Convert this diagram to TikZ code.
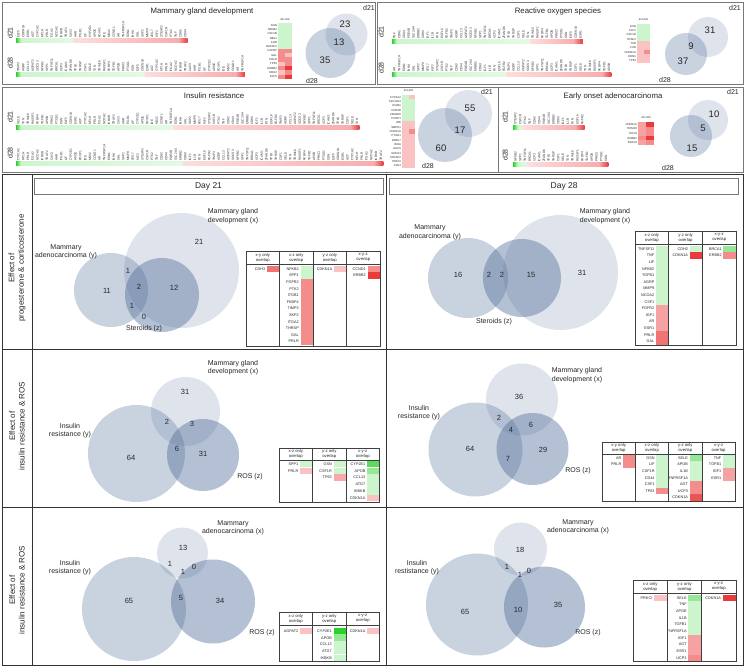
\documentclass[tikz,border=0pt]{standalone}
\usepackage{fontspec}
\setmainfont{Liberation Sans}
\usetikzlibrary{positioning}

\definecolor{vennblue}{RGB}{78,106,152}
\definecolor{lgreen}{RGB}{205,245,205}
\definecolor{mgreen}{RGB}{150,232,150}
\definecolor{sgreen}{RGB}{40,210,40}
\definecolor{lred}{RGB}{250,195,195}
\definecolor{mred}{RGB}{245,140,140}
\definecolor{sred}{RGB}{232,60,60}
\definecolor{framegray}{RGB}{120,120,120}

\tikzset{
  panel/.style={draw=framegray, line width=0.8pt},
  gridline/.style={draw=black!80, line width=0.8pt},
  ptitle/.style={font=\fontsize{7.8}{9}\selectfont, inner sep=0pt},
  daylbl/.style={rotate=90, font=\fontsize{7}{8}\selectfont, inner sep=0pt},
  gene/.style={rotate=90, anchor=west, font=\fontsize{3.2}{3.4}\selectfont, inner sep=0pt, text=black!80},
  hname/.style={anchor=east, font=\fontsize{2.8}{3}\selectfont, inner sep=0.4pt},
  hhead/.style={font=\fontsize{2.6}{3}\selectfont, inner sep=0pt},
  setA/.style={fill=vennblue, fill opacity=0.18},
  setB/.style={fill=vennblue, fill opacity=0.3},
  setC/.style={fill=vennblue, fill opacity=0.42},
  topnum/.style={font=\fontsize{9.5}{10}\selectfont, inner sep=0pt},
  toplbl/.style={font=\fontsize{7}{8}\selectfont, inner sep=0pt},
  vnum/.style={font=\fontsize{7.5}{8}\selectfont, inner sep=0pt},
  vlab/.style={font=\fontsize{7}{8.4}\selectfont, align=center, inner sep=0pt},
  rowlbl/.style={rotate=90, font=\fontsize{8}{9.6}\selectfont, align=center, inner sep=0pt},
  dayhead/.style={draw=framegray, line width=0.7pt, font=\fontsize{8.5}{10}\selectfont,
    minimum width=349pt, minimum height=16pt, inner sep=0pt},
  tframe/.style={draw=black!75, line width=0.5pt},
  thead/.style={font=\fontsize{4.2}{5}\selectfont, align=center, inner sep=0pt},
  tgene/.style={anchor=east, font=\fontsize{3.8}{4}\selectfont, inner sep=0.5pt}
}

% names along the bars (cycled)
\def\genepool{{"GSN","NFKB2","CSF1R","AHR","RASSF1","FGFR2","GAL","PRLR","TP63","ERBB2",
"MSX2","ELF5","SPP1","PTK2","ITGB1","FKBP4","TIMP3","SKP2","ITGA2","THRSP",
"CDH3","CCND1","CDKN1A","TNFSF11","TNF","LIF","TGFB1","AGRP","MMP9","NCOA2",
"CSF1","IGF1","AR","ESR1","BRCA1","CDH2","CYP2E1","APOB","CCL13","ATG7",
"IKBKB","SELE","IL1B","TNFRSF1A","AGT","UCP3","CD44","APOE","PRKCI","AGPAT2",
"KLF2","TRAF2","TXN","FXN","EDN1","CYP1A2","ICAM1","PDE4B","FOXP1","PTGS1",
"SOCS3","STEAP2","CAV3","TRIM16","EGFL6","INHA","MT1H","ZFAND6","SLC2A4","IDE"}}

% x0, y top, n green, n red, name, offset
\newcommand{\genebar}[6]{%
  \pgfmathsetmacro\xga{#1+4.77}%
  \pgfmathsetmacro\xg{#1+#3*4.77}%
  \pgfmathsetmacro\xr{#1+(#3+#4)*4.77}%
  \pgfmathsetmacro\xrb{\xr-2*4.77}%
  \shade[left color=sgreen, right color=lgreen] (#1,#2) rectangle (\xga,#2+4);
  \shade[left color=lgreen, right color=lgreen!55!white] (\xga,#2) rectangle (\xg,#2+4);
  \shade[left color=lred!55!white, right color=lred!60!mred] (\xg,#2) rectangle (\xrb,#2+4);
  \shade[left color=lred!60!mred, right color=sred] (\xrb,#2) rectangle (\xr,#2+4);
  \pgfmathtruncatemacro\nall{#3+#4}%
  \foreach \i in {1,...,\nall}{%
    \pgfmathtruncatemacro\gi{mod(\i*11+#6,70)}%
    \pgfmathparse{\genepool[\gi]}\edef\gn{\pgfmathresult}%
    \node[gene] (#5-\i) at ({#1+(\i-0.5)*4.77},#2-0.8) {\gn};
  }%
}
% name, column x, row y, gene, colour
\def\cw{33.5}
\newcommand{\gcell}[5]{%
  \fill[#5] (#2+21,#3-3.3) rectangle (#2+\cw,#3+3.3);
  \node[tgene] (#1) at (#2+20,#3) {#4};
}

\begin{document}
\begin{tikzpicture}[x=1pt,y=-1pt,every node/.style={text=black!85}]
\useasboundingbox (0,0) rectangle (745,671);
\fill[white] (0,0) rectangle (745,671);

%% ---------- top: four gene set panels ----------
\draw[panel] (2,2) rectangle (375,84);
\draw[panel] (377,2) rectangle (743,84);
\draw[panel] (2,87) rectangle (498,172);
\draw[panel] (498,87) rectangle (743,172);

% mammary gland development
\node[ptitle] (mgtitle) at (202,11) {Mammary gland development};
\node[daylbl] (mg-d21) at (10,33) {d21};
\node[daylbl] (mg-d28) at (10,63) {d28};
\genebar{16}{39}{12}{24}{mg21}{0}
\genebar{16}{73}{27}{21}{mg28}{5}
\node[hhead] (mgh-top) at (285,20) {d21\,d28};
\foreach \g/\ca/\cb [count=\k] in {GSN/lgreen/lgreen, NFKB2/lgreen/lgreen, CSF1R/lgreen/lgreen,
  NBL1/lgreen/lgreen, AHR/lgreen/lgreen, RASSF1/lgreen/lgreen, FGFR2/mred/mred, GAL/mred/lred,
  PRLR/mred/mred, TP63/lred/mred, ERBB2/mred/sred, MSX2/lred/mred, ELF5/mred/sred}{
  \fill[\ca] (278,{23+(\k-1)*4.3}) rectangle (285,{23+\k*4.3});
  \fill[\cb] (285,{23+(\k-1)*4.3}) rectangle (292,{23+\k*4.3});
  \node[hname] (mgh-\k) at (277.5,{23+(\k-0.5)*4.3}) {\g};
}
\fill[setA] (346.5,34.5) circle[radius=21pt];
\fill[setB] (330.5,53) circle[radius=25pt];
\node[toplbl] (mgv-d21) at (369,8) {d21};
\node[toplbl] (mgv-d28) at (312,81) {d28};
\node[topnum] (mgv-a) at (345,24) {23};
\node[topnum] (mgv-b) at (339,42) {13};
\node[topnum] (mgv-c) at (325,60) {35};

% reactive oxygen species
\node[ptitle] (rostitle) at (558,11) {Reactive oxygen species};
\node[daylbl] (ros-d21) at (381,32) {d21};
\node[daylbl] (ros-d28) at (381,68) {d28};
\genebar{392}{40}{29}{11}{ros21}{13}
\genebar{392}{73}{24}{22}{ros28}{21}
\node[hhead] (rosh-top) at (643.5,20) {d21\,d28};
\foreach \g/\ca/\cb [count=\k] in {GSN/lgreen/lgreen, KLF2/lgreen/lgreen, CSF1R/lgreen/lgreen,
  TRAF2/lgreen/lgreen, TXN/lred/lred, FXN/lred/lred, CDKN1A/lred/mred, EDN1/lred/lred, TP63/lred/lred}{
  \fill[\ca] (637,{24+(\k-1)*4.33}) rectangle (643.5,{24+\k*4.33});
  \fill[\cb] (643.5,{24+(\k-1)*4.33}) rectangle (650,{24+\k*4.33});
  \node[hname] (rosh-\k) at (636.5,{24+(\k-0.5)*4.33}) {\g};
}
\fill[setA] (708,37) circle[radius=20pt];
\fill[setB] (686,54) circle[radius=21pt];
\node[toplbl] (rosv-d21) at (735,8) {d21};
\node[toplbl] (rosv-d28) at (665,80) {d28};
\node[topnum] (rosv-a) at (710,30) {31};
\node[topnum] (rosv-b) at (691,46) {9};
\node[topnum] (rosv-c) at (683,61) {37};

% insulin resistance
\node[ptitle] (irtitle) at (214,96) {Insulin resistance};
\node[daylbl] (ir-d21) at (10,117) {d21};
\node[daylbl] (ir-d28) at (10,153) {d28};
\genebar{16}{126}{33}{39}{ir21}{30}
\genebar{16}{162}{35}{42}{ir28}{44}
\node[hhead] (irh-top) at (408.5,91) {d21\,d28};
\foreach \g/\ca/\cb [count=\k] in {CYP1A2/lgreen/lred, SLC10A3/lgreen/lgreen, ICAM1/lgreen/lgreen,
  PDE4B/lgreen/lgreen, ZFAND6/lgreen/lgreen, FOXP1/lgreen/lgreen, IDE/lred/lred, SMPD1/lred/lred,
  CDKN1A/lred/mred, PTGS1/lred/lred, PARK7/lred/lred, INHA/lred/lred, AACS/lred/lred,
  SOCS3/lred/lred, STEAP2/lred/lred, PRKCI/lred/lred, CAV3/lred/lred}{
  \fill[\ca] (402,{95+(\k-1)*4.3}) rectangle (408.5,{95+\k*4.3});
  \fill[\cb] (408.5,{95+(\k-1)*4.3}) rectangle (415,{95+\k*4.3});
  \node[hname] (irh-\k) at (401.5,{95+(\k-0.5)*4.3}) {\g};
}
\fill[setA] (468.5,113.5) circle[radius=23.5pt];
\fill[setB] (445,135) circle[radius=27pt];
\node[toplbl] (irv-d21) at (487,92) {d21};
\node[toplbl] (irv-d28) at (428,166) {d28};
\node[topnum] (irv-a) at (470,108) {55};
\node[topnum] (irv-b) at (460,130) {17};
\node[topnum] (irv-c) at (441,148) {60};

% early onset adenocarcinoma
\node[ptitle] (eotitle) at (613,96) {Early onset adenocarcinoma};
\node[daylbl] (eo-d21) at (505,117) {d21};
\node[daylbl] (eo-d28) at (505,155) {d28};
\genebar{513}{126}{2}{13}{eo21}{50}
\genebar{513}{163}{3}{17}{eo28}{60}
\node[hhead] (eoh-top) at (646,118) {d21\,d28};
\foreach \g/\ca/\cb [count=\k] in {CDKN1A/mred!60!lred/sred, TRIM16/mred!60!lred/mred,
  MT1H/mred!60!lred/mred, ERBB2/mred/sred, EGFL6/mred!60!lred/mred}{
  \fill[\ca] (638,{122+(\k-1)*4.6}) rectangle (646,{122+\k*4.6});
  \fill[\cb] (646,{122+(\k-1)*4.6}) rectangle (654,{122+\k*4.6});
  \node[hname] (eoh-\k) at (637.5,{122+(\k-0.5)*4.6}) {\g};
}
\fill[setA] (708,120) circle[radius=20pt];
\fill[setB] (691,136) circle[radius=21pt];
\node[toplbl] (eov-d21) at (733,92) {d21};
\node[toplbl] (eov-d28) at (668,168) {d28};
\node[topnum] (eov-a) at (714,114) {10};
\node[topnum] (eov-b) at (703,128) {5};
\node[topnum] (eov-c) at (692,148) {15};

%% ---------- bottom: grid of three-set comparisons ----------
\draw[gridline] (2,174) rectangle (743,665);
\draw[gridline] (32,174) -- (32,665);
\draw[gridline] (386,174) -- (386,665);
\draw[gridline] (2,349) -- (743,349);
\draw[gridline] (2,507) -- (743,507);

\node[dayhead] (day21) at (208.5,186) {Day 21};
\node[dayhead, right=6pt of day21] (day28) {Day 28};

\node[rowlbl] (eff1) at (17,268) {Effect of\\progesterone \& corticosterone};
\node[rowlbl] (eff2) at (17,426) {Effect of\\insulin resistance \& ROS};
\node[rowlbl] (eff3) at (17,590) {Effect of\\insulin resistance \& ROS};

% row 1, day 21
\fill[setA] (181.5,270.5) circle[radius=57.5pt];
\fill[setB] (111,290) circle[radius=37pt];
\fill[setC] (162,295) circle[radius=37pt];
\node[vlab] (r1a-x) at (233,216) {Mammary gland\\development (x)};
\node[vlab] (r1a-y) at (66,252) {Mammary\\adenocarcinoma (y)};
\node[vlab] (r1a-z) at (144,329) {Steroids (z)};
\foreach \t/\x/\y [count=\k] in {21/199/242, 11/107/291, 1/128/271, 2/139/287, 12/174/288, 1/132/306, 0/144/317}
  \node[vnum] (r1a-n\k) at (\x,\y) {\t};

% row 1, day 28
\fill[setA] (560.5,272.5) circle[radius=57.5pt];
\fill[setB] (468,278) circle[radius=40pt];
\fill[setC] (522,278) circle[radius=39pt];
\node[vlab] (r1b-x) at (605,216) {Mammary gland\\development (x)};
\node[vlab] (r1b-y) at (430,232.5) {Mammary\\adenocarcinoma (y)};
\node[vlab] (r1b-z) at (494,322) {Steroids (z)};
\foreach \t/\x/\y [count=\k] in {16/458/275, 2/489/275, 2/502/275, 15/531/275, 31/582/273}
  \node[vnum] (r1b-n\k) at (\x,\y) {\t};

% row 2, day 21
\fill[setA] (185.5,411.5) circle[radius=34.5pt];
\fill[setB] (136.5,453.5) circle[radius=48.5pt];
\fill[setC] (203,455) circle[radius=36pt];
\node[vlab] (r2a-x) at (233,367.5) {Mammary gland\\development (x)};
\node[vlab] (r2a-y) at (70,430.5) {Insulin\\resistance (y)};
\node[vlab] (r2a-z) at (250,477) {ROS (z)};
\foreach \t/\x/\y [count=\k] in {31/185/392, 2/167/422, 3/192/424, 6/177/449, 64/131/458, 31/203/454}
  \node[vnum] (r2a-n\k) at (\x,\y) {\t};

% row 2, day 28
\fill[setA] (522,399.5) circle[radius=36pt];
\fill[setB] (475.5,449.5) circle[radius=47pt];
\fill[setC] (532.5,449) circle[radius=36pt];
\node[vlab] (r2b-x) at (577,375) {Mammary gland\\development (x)};
\node[vlab] (r2b-y) at (419,412.5) {Insulin\\resistance (y)};
\node[vlab] (r2b-z) at (578,471) {ROS (z)};
\foreach \t/\x/\y [count=\k] in {36/519/397, 2/499/418, 4/511/430, 6/531/425, 64/470/449, 29/543/450, 7/508/459}
  \node[vnum] (r2b-n\k) at (\x,\y) {\t};

% row 3, day 21
\fill[setA] (182.5,553) circle[radius=25.5pt];
\fill[setB] (134,609) circle[radius=52pt];
\fill[setC] (213,601.5) circle[radius=42pt];
\node[vlab] (r3a-x) at (233,528) {Mammary\\adenocarcinoma (x)};
\node[vlab] (r3a-y) at (70,567.5) {Insulin\\resistance (y)};
\node[vlab] (r3a-z) at (262,633) {ROS (z)};
\foreach \t/\x/\y [count=\k] in {13/183/548, 1/170/564, 0/194/567, 1/183/572, 65/129/601, 5/181/598, 34/220/601}
  \node[vnum] (r3a-n\k) at (\x,\y) {\t};

% row 3, day 28
\fill[setA] (520.5,549) circle[radius=26.5pt];
\fill[setB] (477,604.5) circle[radius=51pt];
\fill[setC] (544.5,607) circle[radius=40.5pt];
\node[vlab] (r3b-x) at (578,526.7) {Mammary\\adenocarcinoma (x)};
\node[vlab] (r3b-y) at (417,567.5) {Insulin\\restistance (y)};
\node[vlab] (r3b-z) at (588,633) {ROS (z)};
\foreach \t/\x/\y [count=\k] in {18/520/550, 1/507/567, 0/529/571, 1/520/575, 65/465/612, 10/518/610, 35/558/605}
  \node[vnum] (r3b-n\k) at (\x,\y) {\t};

%% ---------- overlap tables ----------
% row 1, day 21
\def\cw{33.5}
\gcell{t1a-1}{246}{269}{CDH3}{mred!70!sred}
\foreach \g/\c [count=\k] in {NFKB2/lgreen, SPP1/lgreen, FGFR2/mred, PTK2/mred, ITGB1/mred, FKBP4/mred,
  TIMP3/mred, SKP2/mred, ITGA2/mred, THRSP/mred, GAL/mred, PRLR/mred}
  {\gcell{t1b-\k}{279.5}{262.4+6.6*\k}{\g}{\c}}
\gcell{t1c-1}{313}{269}{CDKN1A}{lred}
\gcell{t1d-1}{346.5}{269}{CCND1}{mred}
\gcell{t1d-2}{346.5}{275.6}{ERBB2}{sred}
\draw[tframe] (246,251) rectangle (380,346);
\draw[tframe] (246,264) -- (380,264);
\foreach \c in {279.5,313,346.5} \draw[tframe] (\c,251) -- (\c,346);
\node[thead] (t1h1) at (262.75,257.5) {x-y only\\overlap};
\node[thead] (t1h2) at (296.25,257.5) {x-z only\\overlap};
\node[thead] (t1h3) at (329.75,257.5) {y-z only\\overlap};
\node[thead] (t1h4) at (363.25,257.5) {x-y-z\\overlap};

% row 1, day 28
\def\cw{33.7}
\foreach \g/\c [count=\k] in {TNFSF11/lgreen, TNF/lgreen, LIF/lgreen, NFKB2/lgreen, TGFB1/lgreen,
  AGRP/lgreen, MMP9/lgreen, NCOA2/lgreen, CSF1/lgreen, FGFR2/mred!60!lred, IGF1/mred!60!lred,
  AR/mred!60!lred, ESR1/mred!60!lred, PRLR/mred!70!sred, GAL/mred!70!sred}
  {\gcell{t2a-\k}{635}{242.4+6.6*\k}{\g}{\c}}
\gcell{t2b-1}{668.7}{249}{CDH2}{lgreen}
\gcell{t2b-2}{668.7}{255.6}{CDKN1A}{sred}
\gcell{t2c-1}{702.4}{249}{BRCA1}{mgreen}
\gcell{t2c-2}{702.4}{255.6}{ERBB2}{mred}
\draw[tframe] (635,231) rectangle (736,345);
\draw[tframe] (635,244.5) -- (736,244.5);
\foreach \c in {668.7,702.4} \draw[tframe] (\c,231) -- (\c,345);
\node[thead] (t2h1) at (651.85,237.75) {x-z only\\overlap};
\node[thead] (t2h2) at (685.55,237.75) {y-z only\\overlap};
\node[thead] (t2h3) at (719.25,237.75) {x-y-z\\overlap};

% row 2, day 21
\def\cw{33.5}
\gcell{t3a-1}{279}{464}{SPP1}{lgreen}
\gcell{t3a-2}{279}{470.8}{PRLR}{lred}
\foreach \g/\c [count=\k] in {GSN/lgreen, CSF1R/lgreen, TP63/mred!50!lred}
  {\gcell{t3b-\k}{312.5}{457.2+6.8*\k}{\g}{\c}}
\foreach \g/\c [count=\k] in {CYP2E1/sgreen!70!lgreen, APOB/mgreen, CCL13/lgreen, ATG7/lgreen,
  IKBKB/lgreen, CDKN1A/lred}
  {\gcell{t3c-\k}{346}{457.2+6.8*\k}{\g}{\c}}
\draw[tframe] (279,448) rectangle (379.5,502);
\draw[tframe] (279,460.5) -- (379.5,460.5);
\foreach \c in {312.5,346} \draw[tframe] (\c,448) -- (\c,502);
\node[thead] (t3h1) at (295.75,454.25) {x-z only\\overlap};
\node[thead] (t3h2) at (329.25,454.25) {y-z only\\overlap};
\node[thead] (t3h3) at (362.75,454.25) {x-y-z\\overlap};

% row 2, day 28
\def\cw{33.3}
\gcell{t4a-1}{602}{458}{AR}{mred}
\gcell{t4a-2}{602}{464.6}{PRLR}{mred}
\foreach \g/\c [count=\k] in {GSN/lgreen, LIF/lgreen, CSF1R/lgreen, CD44/lgreen, CSF1/lgreen, TP63/mred}
  {\gcell{t4b-\k}{635.3}{451.4+6.6*\k}{\g}{\c}}
\foreach \g/\c [count=\k] in {SELE/mgreen, APOB/lgreen, IL1B/lgreen, TNFRSF1A/lgreen, AGT/mred,
  UCP3/mred, CDKN1A/sred!70!mred}
  {\gcell{t4c-\k}{668.6}{451.4+6.6*\k}{\g}{\c}}
\foreach \g/\c [count=\k] in {TNF/lgreen, TGFB1/lgreen, IGF1/lred!40!mred, ESR1/lred!40!mred}
  {\gcell{t4d-\k}{701.9}{451.4+6.6*\k}{\g}{\c}}
\draw[tframe] (602,442) rectangle (735.2,501.5);
\draw[tframe] (602,454.5) -- (735.2,454.5);
\foreach \c in {635.3,668.6,701.9} \draw[tframe] (\c,442) -- (\c,501.5);
\node[thead] (t4h1) at (618.65,448.25) {x-y only\\overlap};
\node[thead] (t4h2) at (651.95,448.25) {x-z only\\overlap};
\node[thead] (t4h3) at (685.25,448.25) {y-z only\\overlap};
\node[thead] (t4h4) at (718.55,448.25) {x-y-z\\overlap};

% row 3, day 21
\def\cw{33.5}
\gcell{t5a-1}{279}{631}{AGPAT2}{lred}
\foreach \g/\c [count=\k] in {CYP2E1/sgreen, APOB/mgreen, CCL13/lgreen, ATG7/lgreen, IKBKB/lgreen}
  {\gcell{t5b-\k}{312.5}{624.3+6.7*\k}{\g}{\c}}
\gcell{t5c-1}{346}{631}{CDKN1A}{lred}
\draw[tframe] (279,612) rectangle (379.5,661.5);
\draw[tframe] (279,625) -- (379.5,625);
\foreach \c in {312.5,346} \draw[tframe] (\c,612) -- (\c,661.5);
\node[thead] (t5h1) at (295.75,618.5) {x-z only\\overlap};
\node[thead] (t5h2) at (329.25,618.5) {y-z only\\overlap};
\node[thead] (t5h3) at (362.75,618.5) {x-y-z\\overlap};

% row 3, day 28
\def\cw{34.3}
\gcell{t6a-1}{633}{598}{PRKCI}{lred}
\foreach \g/\c [count=\k] in {SELE/mgreen, TNF/lgreen, APOE/lgreen, IL1B/lgreen, TGFB1/lgreen,
  TNFRSF1A/lgreen, IGF1/mred!60!lred, AGT/mred!60!lred, ESR1/mred!60!lred, UCP3/mred}
  {\gcell{t6b-\k}{667.3}{591.3+6.67*\k}{\g}{\c}}
\gcell{t6c-1}{701.6}{598}{CDKN1A}{sred}
\draw[tframe] (633,580) rectangle (736,661.5);
\draw[tframe] (633,593) -- (736,593);
\foreach \c in {667.3,701.6} \draw[tframe] (\c,580) -- (\c,661.5);
\node[thead] (t6h1) at (650.15,586.5) {x-z only\\overlap};
\node[thead] (t6h2) at (684.45,586.5) {y-z only\\overlap};
\node[thead] (t6h3) at (718.75,586.5) {x-y-z\\overlap};
\end{tikzpicture}
\end{document}
